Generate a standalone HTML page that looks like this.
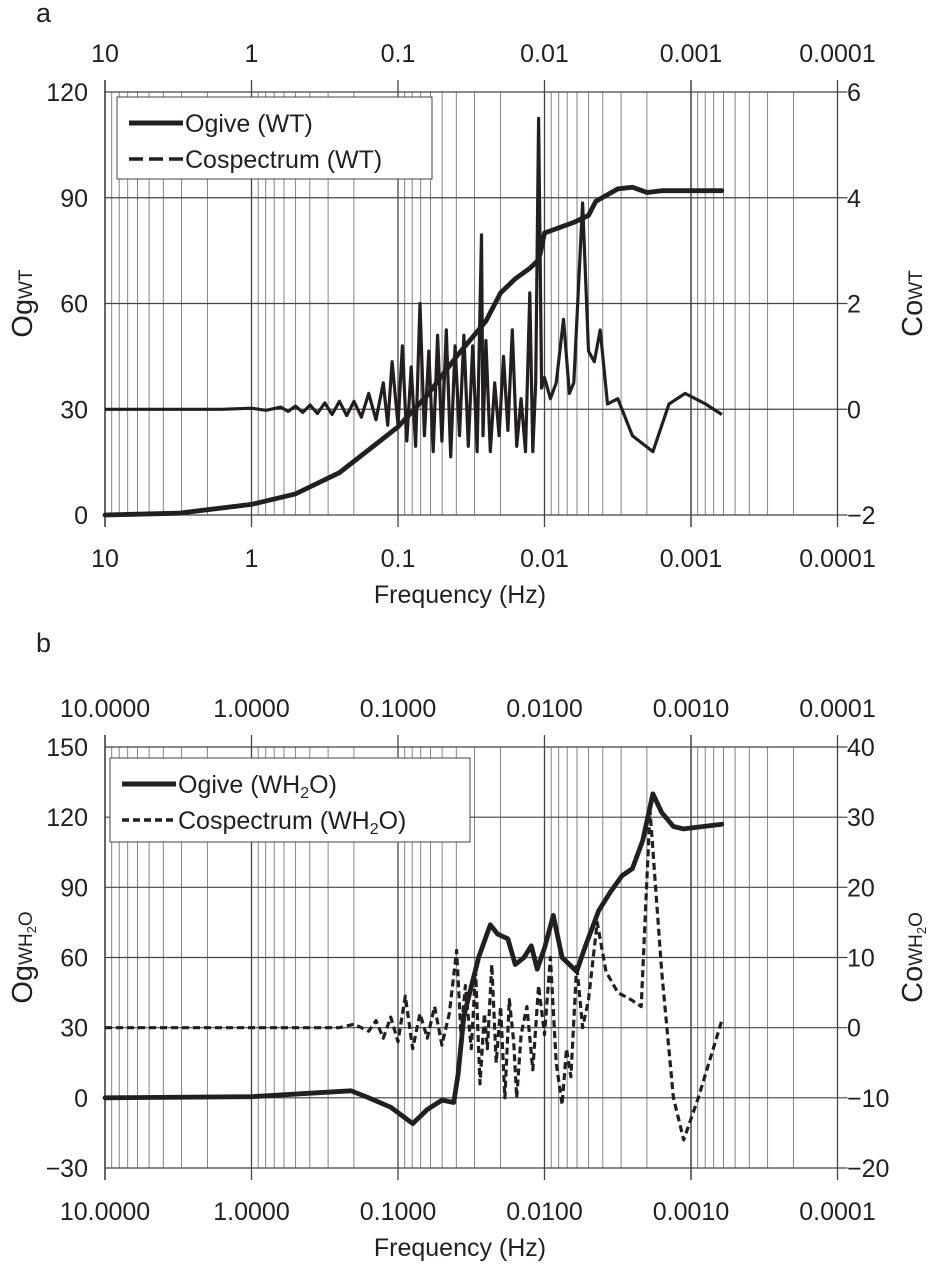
<!DOCTYPE html>
<html><head><meta charset="utf-8"><style>
body{margin:0;background:#fff}
svg{display:block;font-family:"Liberation Sans",sans-serif;fill:#231f20}
</style></head><body>
<svg id="chart" width="932" height="1274" viewBox="0 0 932 1274">
<text x="36" y="22" font-size="27">a</text>
<text x="36" y="652" font-size="27">b</text>
</svg>
<script>
// Panel a data (freqPos = log10(10 Hz / f), decades below 10 Hz)
const ogiveAPos = [0,0.5,1,1.3,1.6,2.0,2.2,2.4,2.6,2.7,2.8,2.9,2.95,2.97,3.0,3.2,3.3,3.35,3.5,3.6,3.7,3.8,4.21];
const ogiveAVal = [0,0.5,3,6,12,25,34,45,55,63,67,70,72,74,80,83,85,89,92.5,93,91.5,92,92];
const cospAPos = [0,0.8,1.0,1.1,1.2,1.25,1.3,1.35,1.4,1.45,1.5,1.55,1.6,1.65,1.7,1.75,1.8,1.85,1.9,1.93,1.96,2.0,2.03,2.06,2.09,2.12,2.15,2.18,2.21,2.24,2.27,2.3,2.33,2.36,2.39,2.42,2.45,2.48,2.51,2.54,2.57,2.58,2.6,2.63,2.66,2.69,2.72,2.75,2.78,2.81,2.84,2.87,2.9,2.92,2.94,2.96,2.98,3.0,3.04,3.08,3.13,3.17,3.2,3.26,3.3,3.34,3.38,3.43,3.5,3.6,3.74,3.85,3.96,4.1,4.21];
const cospAVal = [0,0,0.02,-0.02,0.04,-0.04,0.06,-0.06,0.08,-0.08,0.12,-0.1,0.15,-0.12,0.15,-0.15,0.3,-0.2,0.5,-0.3,0.9,-0.3,1.2,-0.6,0.8,-0.7,2.0,-0.5,1.1,-0.8,1.4,-0.6,1.5,-0.9,1.2,-0.5,1.4,-0.7,1.2,-0.8,3.3,-0.5,1.3,-0.8,0.5,-0.5,1.0,-0.4,1.5,-0.7,0.2,-0.8,2.2,-0.8,0.5,5.5,0.4,0.6,0.2,0.5,1.7,0.3,0.5,3.9,1.1,0.9,1.5,0.1,0.2,-0.5,-0.8,0.1,0.3,0.1,-0.1];
const leftTicksA = [0,30,60,90,120];
const rightTicksA = ["\u22122","0","2","4","6"];
const topLabelsA = ["10","1","0.1","0.01","0.001","0.0001"];
// Panel b data
const ogiveBPos = [0,1.0,1.4,1.68,1.8,1.95,2.1,2.2,2.3,2.38,2.41,2.45,2.49,2.55,2.63,2.68,2.75,2.8,2.86,2.91,2.95,3.0,3.06,3.12,3.22,3.28,3.37,3.45,3.53,3.6,3.67,3.74,3.8,3.88,3.95,4.21];
const ogiveBVal = [0,0.5,2,3,0,-4,-11,-5,-1,-2,10,35,45,60,74,70,68,57,60,65,55,64,78,60,54,65,80,88,95,98,110,130,122,116,115,117];
const cospBPos = [0,1.0,1.6,1.7,1.8,1.85,1.9,1.95,2.0,2.05,2.1,2.15,2.2,2.25,2.3,2.35,2.4,2.43,2.46,2.5,2.53,2.56,2.59,2.61,2.64,2.67,2.7,2.73,2.76,2.79,2.81,2.84,2.88,2.92,2.96,3.0,3.04,3.08,3.12,3.15,3.18,3.22,3.26,3.3,3.36,3.42,3.5,3.59,3.66,3.72,3.8,3.88,3.95,4.05,4.21];
const cospBVal = [0,0,0,0.5,-0.5,1,-1.5,1.5,-2,4.5,-3,2,-1.5,3,-2.5,2,11,-1,6,-3,8,-8,2,-3,9,-5,3,-10,4,-2,-10,-1,3,-6,6,-1,10,-5,-11,-3,-7,9,0,4,15,8,5,4,3,31,8,-10,-16,-10,1];
const leftTicksB = [-30,0,30,60,90,120,150];
const rightTicksB = ["\u221220","\u221210","0","10","20","30","40"];
const topLabelsB = ["10.0000","1.0000","0.1000","0.0100","0.0010","0.0001"];

const svg = document.getElementById('chart');
const NS = 'http://www.w3.org/2000/svg';
const X0 = 105, DEC = 146.5;
function xPos(p){ return X0 + p*DEC; }
function mk(tag, attrs){ const e=document.createElementNS(NS,tag); for(const k in attrs) e.setAttribute(k,attrs[k]); svg.appendChild(e); return e; }

function panel(cfg){
  const {top,bot,lmin,lmax,rmin,rmax} = cfg;
  const yL = v => bot - (v-lmin)/(lmax-lmin)*(bot-top);
  const yR = v => bot - (v-rmin)/(rmax-rmin)*(bot-top);
  for(let d=0; d<5; d++){
    for(let m=1; m<=10; m++){
      if(m===10 && d<4) continue;
      const p = d + (1 - Math.log10(m));
      const x = xPos(p);
      const major = (m===1 || m===10);
      const l = mk('line',{x1:x,x2:x,y1:major?top-12:top,y2:major?bot+12:bot,stroke:major?'#444':'#777','stroke-width':major?1.3:0.9});
      
      
    }
  }
  cfg.lticks.forEach((v,i)=>{
    const y=yL(v);
    const l=mk('line',{x1:X0,x2:xPos(5)+10,y1:y,y2:y,stroke:'#444','stroke-width':1.2});
    
    
    const t=mk('text',{x:88,y:y+9,'font-size':25,'text-anchor':'end'}); t.textContent=(v<0?'\u2212'+(-v):v);
    
    
    const r=mk('text',{x:847,y:y+9,'font-size':25}); r.textContent=cfg.rticks[i];
    
    
  });
  const ax=mk('line',{x1:X0,x2:X0,y1:top-12,y2:bot+12,stroke:'#333','stroke-width':1.5});
  
  
  cfg.topLabels.forEach((s,i)=>{
    const t=mk('text',{x:xPos(i),y:top-30,'font-size':25,'text-anchor':'middle'}); t.textContent=s;
    
    
    const b=mk('text',{x:xPos(i),y:bot+52,'font-size':25,'text-anchor':'middle'}); b.textContent=s;
    
    
  });
  const xt=mk('text',{x:460,y:bot+88,'font-size':25,'text-anchor':'middle'}); xt.textContent='Frequency (Hz)';
  
  
  const cy=(top+bot)/2;
  const lt=mk('text',{x:0,y:0,'font-size':29,'text-anchor':'middle',transform:`translate(32,${cy}) rotate(-90)`});
  lt.innerHTML='Og<tspan font-size="19">'+cfg.sub+'</tspan>';
  
  
  const rt=mk('text',{x:0,y:0,'font-size':29,'text-anchor':'middle',transform:`translate(922,${cy}) rotate(-90)`});
  rt.innerHTML='Co<tspan font-size="19">'+cfg.sub+'</tspan>';
  
  
  const cd=cfg.cPos.map((p,i)=>(i?'L':'M')+xPos(p).toFixed(1)+','+yR(cfg.cVal[i]).toFixed(1)).join('');
  const cs=mk('path',{d:cd,fill:'none',stroke:'#231f20','stroke-width':3.2,'stroke-linejoin':'round','stroke-dasharray':cfg.dash||'none'});
  
  
  const od=cfg.oPos.map((p,i)=>(i?'L':'M')+xPos(p).toFixed(1)+','+yL(cfg.oVal[i]).toFixed(1)).join('');
  const os=mk('path',{d:od,fill:'none',stroke:'#231f20','stroke-width':4.8,'stroke-linejoin':'round','stroke-linecap':'round'});
  
  
  const L=cfg.leg;
  const box=mk('rect',{x:L.x,y:L.y,width:L.w,height:L.h,fill:'#fff',stroke:'#444','stroke-width':1});
  
  
  const l1=mk('line',{x1:L.x+12,x2:L.x+66,y1:L.y+26,y2:L.y+26,stroke:'#231f20','stroke-width':5});
  
  
  const t1=mk('text',{x:L.x+68,y:L.y+35,'font-size':25}); t1.innerHTML=L.t1;
  
  
  const l2=mk('line',{x1:L.x+12,x2:L.x+66,y1:L.y+62,y2:L.y+62,stroke:'#231f20','stroke-width':3.5,'stroke-dasharray':L.d});
  
  
  const t2=mk('text',{x:L.x+68,y:L.y+71,'font-size':25}); t2.innerHTML=L.t2;
  
  
}
panel({top:92,bot:515,lmin:0,lmax:120,rmin:-2,rmax:6,lticks:leftTicksA,rticks:rightTicksA,topLabels:topLabelsA,sub:'WT',
  oPos:ogiveAPos,oVal:ogiveAVal,cPos:cospAPos,cVal:cospAVal,dash:null,
  leg:{x:117,y:97,w:315,h:82,t1:'Ogive (WT)',t2:'Cospectrum (WT)',d:'14,6'}});
panel({top:747,bot:1168,lmin:-30,lmax:150,rmin:-20,rmax:40,lticks:leftTicksB,rticks:rightTicksB,topLabels:topLabelsB,sub:'WH<tspan font-size="13" dy="4">2</tspan><tspan dy="-4">O</tspan>',
  oPos:ogiveBPos,oVal:ogiveBVal,cPos:cospBPos,cVal:cospBVal,dash:'7,4',
  leg:{x:110,y:758,w:360,h:84,t1:'Ogive (WH<tspan font-size="16" dy="5">2</tspan><tspan dy="-5">O)</tspan>',t2:'Cospectrum (WH<tspan font-size="16" dy="5">2</tspan><tspan dy="-5">O)</tspan>',d:'7,4'}});
</script>
</body></html>
